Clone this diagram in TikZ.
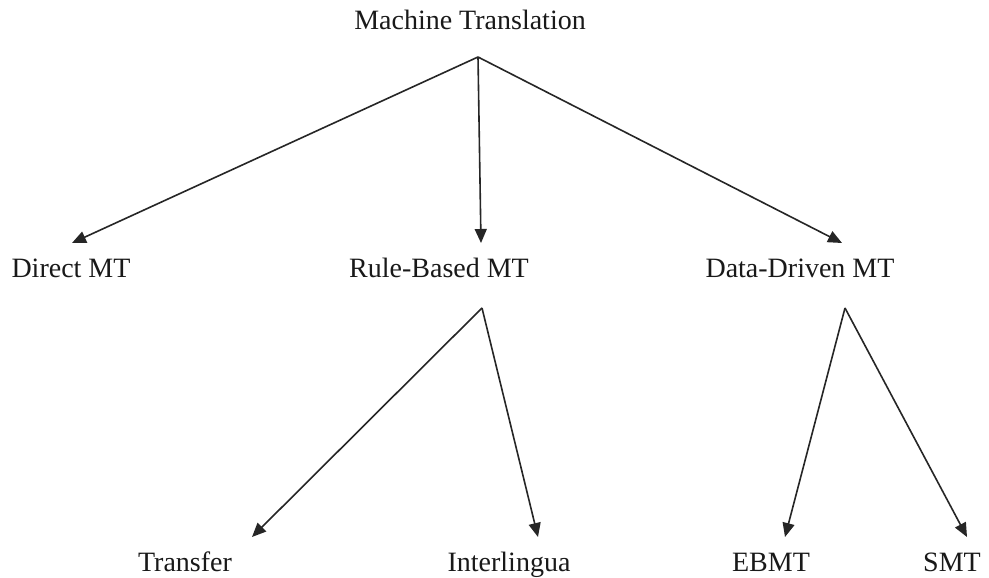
\documentclass[tikz,border=0pt]{standalone}
\usepackage{fontspec}
\setmainfont{Liberation Serif}
\usetikzlibrary{arrows.meta}
\begin{document}
\begin{tikzpicture}[x=1pt,y=1pt,
  lbl/.style={anchor=base,inner sep=0pt,font=\fontsize{28}{31}\selectfont,text=black!90},
  arr/.style={draw=black!85,line width=1.6pt,-{Triangle[length=14pt,width=12pt]}}]
\useasboundingbox[fill=white] (0,0) rectangle (989,578);
% labels (y = 578 - baseline)
\node[lbl] (mt)  at (470,548) {Machine Translation};
\node[lbl] (dir) at (71,300) {Direct MT};
\node[lbl] (rb)  at (439,300) {Rule-Based MT};
\node[lbl] (dd)  at (800,300) {Data-Driven MT};
\node[lbl] (tr)  at (185,6) {Transfer};
\node[lbl] (il)  at (509,6) {Interlingua};
\node[lbl] (eb)  at (771,6) {EBMT};
\node[lbl] (smt) at (952,6) {SMT};
% connector points
\coordinate (mtA) at (478,521);
\coordinate (dirT) at (72,335);
\coordinate (rbT) at (481,335);
\coordinate (ddT) at (842,335);
\coordinate (rbA) at (482,270);
\coordinate (trT) at (252,41);
\coordinate (ilT) at (538,41);
\coordinate (ddA) at (845,270);
\coordinate (ebT) at (785,41);
\coordinate (smtT) at (967,41);
\draw[arr] (mtA) -- (dirT);
\draw[arr] (mtA) -- (rbT);
\draw[arr] (mtA) -- (ddT);
\draw[arr] (rbA) -- (trT);
\draw[arr] (rbA) -- (ilT);
\draw[arr] (ddA) -- (ebT);
\draw[arr] (ddA) -- (smtT);
\end{tikzpicture}
\end{document}
